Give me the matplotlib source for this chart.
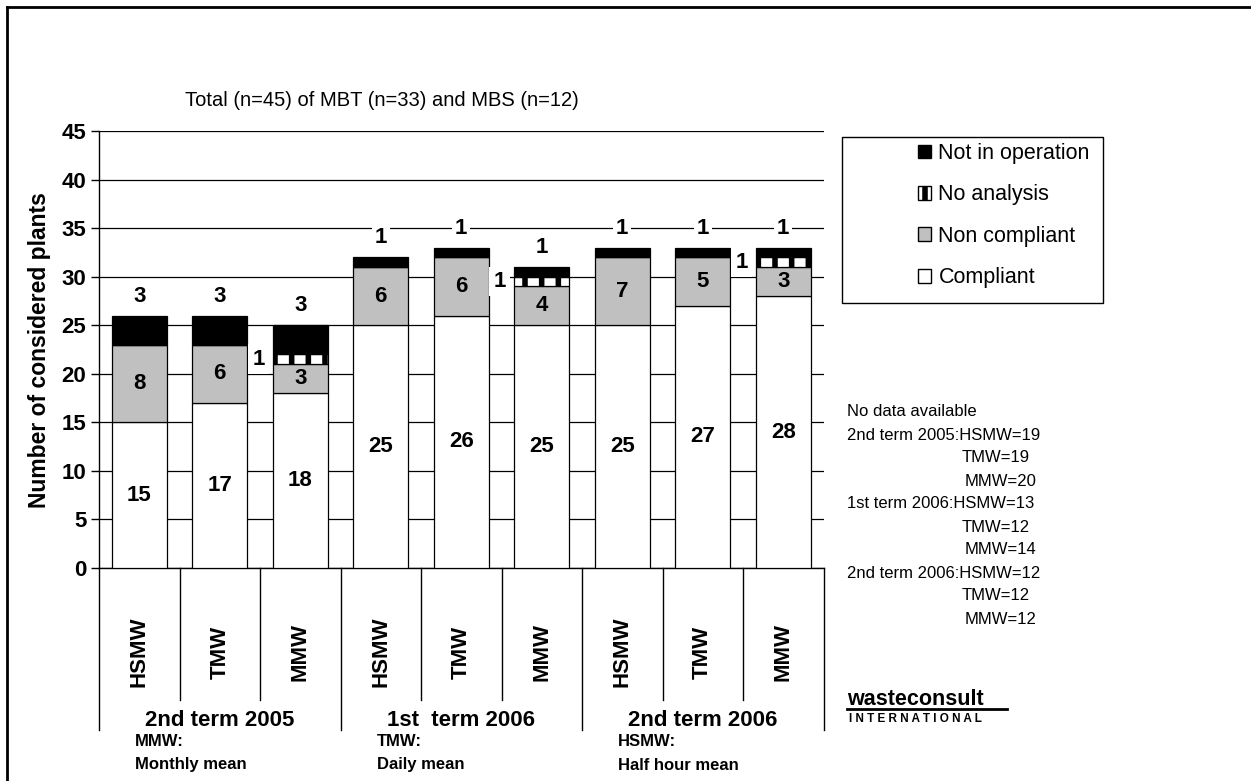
import numpy as np
import matplotlib
matplotlib.use('Agg')
import matplotlib.pyplot as plt
from matplotlib.patches import Patch, Rectangle
from matplotlib.lines import Line2D

plt.rcParams['font.family'] = ['Liberation Sans', 'DejaVu Sans']
plt.rcParams['hatch.linewidth'] = 4.0

# data
terms = ['2nd term 2005', '1st  term 2006', '2nd term 2006']
methods = ['HSMW', 'TMW', 'MMW']
compliant = [15, 17, 18, 25, 26, 25, 25, 27, 28]
non_compliant = [8, 6, 3, 6, 6, 4, 7, 5, 3]
no_analysis = [0, 0, 1, 0, 0, 1, 0, 0, 1]
not_in_operation = [3, 3, 3, 1, 1, 1, 1, 1, 1]
note_abbr = ['MMW:', 'TMW:', 'HSMW:']
note_text = ['Monthly mean', 'Daily mean', 'Half hour mean']
no_data_terms = ['2nd term 2005', '1st term 2006', '2nd term 2006']
no_data = [[19, 19, 20], [13, 12, 14], [12, 12, 12]]

W, H = 1251, 781
fig = plt.figure(figsize=(W / 100, H / 100), dpi=100)


def fx(px):
    return px / W


def fy(py):
    return 1 - py / H


ax = fig.add_axes([fx(99), fy(568), fx(823.5) - fx(99), fy(131) - fy(568)])
ax_h = 568 - 131

x = np.arange(len(compliant)) + 0.5
width = 0.68
comp = np.array(compliant)
nonc = np.array(non_compliant)
noan = np.array(no_analysis)
notop = np.array(not_in_operation)
b2 = comp + nonc
b3 = b2 + noan
total = b3 + notop

ax.bar(x, comp, width, color='white', edgecolor='black', lw=0.9, zorder=3)
ax.bar(x, nonc, width, bottom=comp, color='#c0c0c0', edgecolor='black', lw=0.9, zorder=3)
ax.bar(x, noan, width, bottom=b2, color='white', edgecolor='black', hatch='|', lw=0.9, zorder=3)
ax.bar(x, notop, width, bottom=b3, color='black', edgecolor='black', lw=0.9, zorder=3)

lab = dict(fontsize=16, fontweight='bold', ha='center', va='center', zorder=6)
for i in range(len(x)):
    ax.text(x[i], comp[i] / 2, str(comp[i]), **lab)
    ax.text(x[i], comp[i] + nonc[i] / 2, str(nonc[i]), **lab)
    if noan[i] > 0:
        ax.text(x[i] - 0.52, b2[i] + noan[i] / 2, str(noan[i]),
                bbox=dict(facecolor='white', edgecolor='none', pad=3), **lab)
    ax.text(x[i], total[i] + 2, str(notop[i]),
            bbox=dict(facecolor='white', edgecolor='none', pad=2), **lab)

ax.set_xlim(0, 9)
ax.set_ylim(0, 45)
ax.set_yticks(np.arange(0, 46, 5))
ax.set_xticks([])
ax.yaxis.grid(True, color='black', lw=0.9)
ax.set_axisbelow(True)
for s in ['top', 'right']:
    ax.spines[s].set_visible(False)
for s in ['left', 'bottom']:
    ax.spines[s].set_linewidth(1)
ax.tick_params(axis='y', length=6, width=1, labelsize=16, pad=3)
for t in ax.get_yticklabels():
    t.set_fontweight('bold')

# category axis: methods, terms, separators
trans = ax.get_xaxis_transform()
for i in range(10):
    y_end = -(730 - 568) / ax_h if i % 3 == 0 else -(700 - 568) / ax_h
    ax.plot([i, i], [0, y_end], transform=trans, color='black', lw=1, clip_on=False)
for i in range(len(x)):
    ax.text(x[i], -(652 - 568) / ax_h, methods[i % 3], transform=trans, rotation=90,
            fontsize=16, fontweight='bold', ha='center', va='center')
for g, term in enumerate(terms):
    ax.text(3 * g + 1.5, -(720 - 568) / ax_h, term, transform=trans,
            fontsize=16, fontweight='bold', ha='center', va='center')
    ax.text(3 * g + 0.45, -(741 - 568) / ax_h, note_abbr[g], transform=trans,
            fontsize=12, fontweight='bold', ha='left', va='center')
    ax.text(3 * g + 0.45, -(765 - 568) / ax_h, note_text[g], transform=trans,
            fontsize=12, fontweight='bold', ha='left', va='center')

fig.text(fx(185), fy(100), 'Total (n=45) of MBT (n=33) and MBS (n=12)',
         fontsize=14.5, va='center', ha='left')
fig.text(fx(40), fy(350), 'Number of considered plants', rotation=90,
         fontsize=16.5, fontweight='bold', ha='center', va='center')

# legend
handles = [Patch(facecolor='black', edgecolor='black'),
           Patch(facecolor='white', edgecolor='black', hatch='|'),
           Patch(facecolor='#c0c0c0', edgecolor='black'),
           Patch(facecolor='white', edgecolor='black')]
labels = ['Not in operation', 'No analysis', 'Non compliant', 'Compliant']
fig.legend(handles, labels, loc='upper left', bbox_to_anchor=(fx(918), fy(143)),
           frameon=False, fontsize=15.5, handlelength=0.6, handleheight=0.6,
           handletextpad=0.35, labelspacing=0.95, borderpad=0, borderaxespad=0)
fig.add_artist(Rectangle((fx(842), fy(303)), fx(1103) - fx(842), fy(137) - fy(303),
                         transform=fig.transFigure, fill=False, edgecolor='black', lw=1))

# no data notes
fig.text(fx(847), fy(412), 'No data available', fontsize=12, va='center')
for g, term in enumerate(no_data_terms):
    y0 = 435 + 69 * g
    fig.text(fx(847), fy(y0), f'{term}:HSMW={no_data[g][0]}', fontsize=12, va='center')
    fig.text(fx(962), fy(y0 + 23), f'TMW={no_data[g][1]}', fontsize=12, va='center')
    fig.text(fx(965), fy(y0 + 46), f'MMW={no_data[g][2]}', fontsize=12, va='center')

# logo
fig.text(fx(847), fy(705), 'wasteconsult', fontsize=15.5, fontweight='bold', va='baseline')
fig.add_artist(Line2D([fx(847), fx(1007)], [fy(709), fy(709)], lw=2, color='black'))
fig.text(fx(849), fy(719), ' '.join('INTERNATIONAL'), fontsize=8.5, fontweight='bold', va='center')

# frame around the picture
fig.add_artist(Line2D([fx(7), fx(7)], [fy(7), 0], lw=2, color='black'))
fig.add_artist(Line2D([fx(7), 1], [fy(7), fy(7)], lw=2, color='black'))

fig.savefig('out.png', dpi=100)
